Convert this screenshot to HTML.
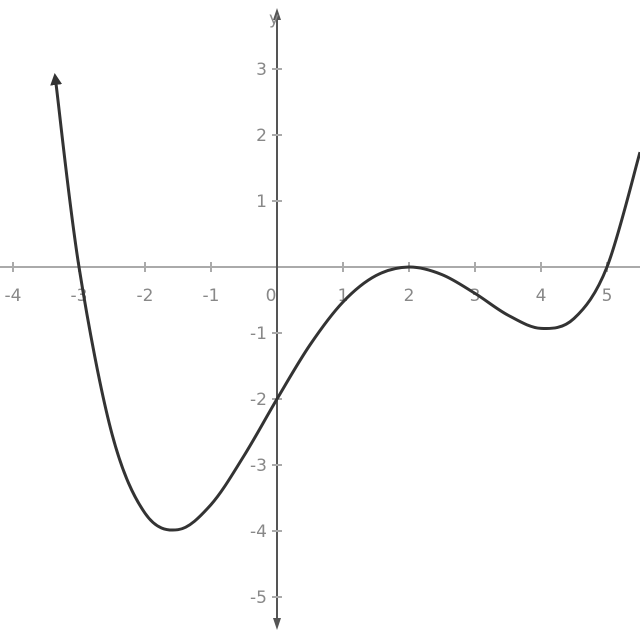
<!DOCTYPE html>
<html><head><meta charset="utf-8"><style>
html,body{margin:0;padding:0;background:#fff;}
svg{display:block;}
text{font-family:"DejaVu Sans","Liberation Sans",sans-serif;fill:#888;font-size:17px;}
</style></head><body>
<svg id="chart" width="640" height="640" viewBox="0 0 640 640" xmlns="http://www.w3.org/2000/svg">
<defs>
<marker id="arr" markerWidth="12" markerHeight="12" refX="2" refY="6" orient="auto-start-reverse" markerUnits="userSpaceOnUse"><path d="M0,0 L12,6 L0,12 z" fill="#333"/></marker>
<marker id="arrA" markerWidth="12" markerHeight="10" refX="2" refY="5" orient="auto-start-reverse" markerUnits="userSpaceOnUse"><path d="M0,1 L12,5 L0,9 z" fill="#555"/></marker>
</defs>
<g id="axes"></g>
<g id="curve"></g>
</svg>
<script>
const xTicks = [-4,-3,-2,-1,0,1,2,3,4,5];
const yTicks = [3,2,1,-1,-2,-3,-4,-5];
const curveX = [-3.35,-3,-2.5,-2,-1.5,-1,-0.5,0,0.5,1,1.5,2,2.5,3,3.5,4,4.5,5,5.5];
const curveY = [2.79,0,-2.53,-3.73,-3.98,-3.6,-2.86,-2,-1.18,-0.53,-0.13,0,-0.115,-0.4,-0.73,-0.93,-0.78,0,1.74];

const ox=277, oy=267, u=66;
const sx=v=>ox+v*u, sy=v=>oy-v*u;
const NS='http://www.w3.org/2000/svg';
const axes=document.getElementById('axes');
function mk(tag,attrs,parent){const e=document.createElementNS(NS,tag);for(const k in attrs)e.setAttribute(k,attrs[k]);parent.appendChild(e);return e;}

const xa=mk('line',{x1:0,y1:oy,x2:640,y2:oy,stroke:'#aaa','stroke-width':2},axes);


const ya=mk('line',{x1:ox,y1:18,x2:ox,y2:620,stroke:'#555','stroke-width':2,'marker-start':'url(#arrA)','marker-end':'url(#arrA)'},axes);


const yl=mk('text',{x:ox-8,y:24,'font-size':18},axes);yl.textContent='y';



xTicks.forEach(v=>{
  if(v!==0) mk('line',{x1:sx(v),y1:oy-5,x2:sx(v),y2:oy+5,stroke:'#aaa','stroke-width':2},axes);
  const t=mk('text',{x:sx(v)+(v===0?-6:0),y:oy+34,'text-anchor':'middle'},axes);
  t.textContent=v;
  
  
});
yTicks.forEach(v=>{
  mk('line',{x1:ox-5,y1:sy(v),x2:ox+5,y2:sy(v),stroke:'#aaa','stroke-width':2},axes);
  const t=mk('text',{x:ox-10,y:sy(v)+6,'text-anchor':'end'},axes);
  t.textContent=v;
  
  
});

const P=curveX.map((x,i)=>[sx(x),sy(curveY[i])]);
let d='M'+P[0][0]+','+P[0][1];
for(let i=0;i<P.length-1;i++){
  const p0=P[Math.max(0,i-1)],p1=P[i],p2=P[i+1],p3=P[Math.min(P.length-1,i+2)];
  const c1=[p1[0]+(p2[0]-p0[0])/6,p1[1]+(p2[1]-p0[1])/6];
  const c2=[p2[0]-(p3[0]-p1[0])/6,p2[1]-(p3[1]-p1[1])/6];
  d+=' C'+c1[0]+','+c1[1]+' '+c2[0]+','+c2[1]+' '+p2[0]+','+p2[1];
}
const c=mk('path',{d:d,fill:'none',stroke:'#333','stroke-width':3,'marker-start':'url(#arr)'},document.getElementById('curve'));


</script>
</body></html>
